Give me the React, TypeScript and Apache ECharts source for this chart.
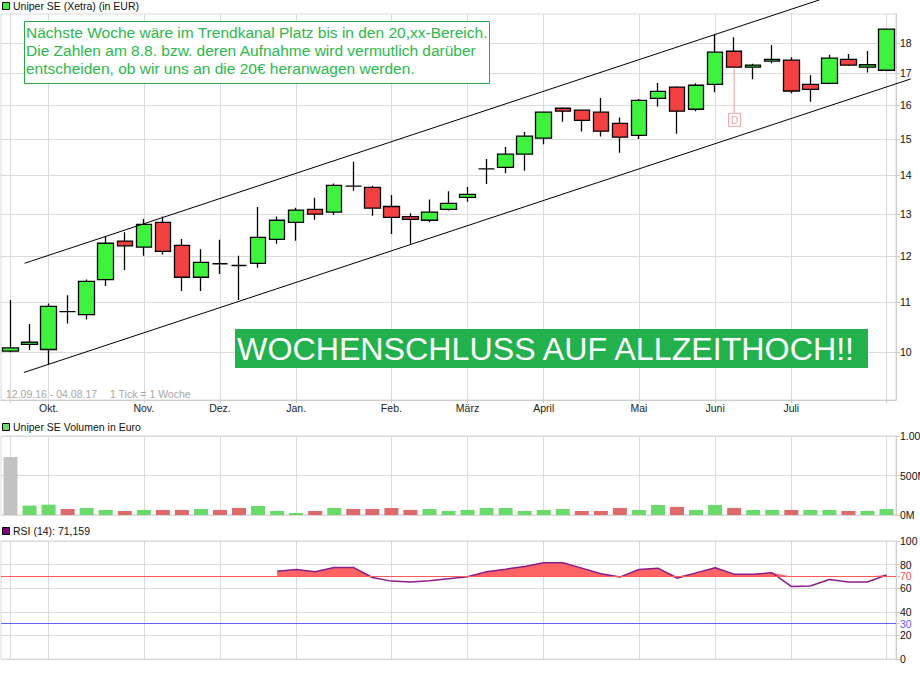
import React, { useEffect, useRef } from 'react';
import * as echarts from 'echarts';

// ---------- data ----------
const weeks = [
  '12.09.16', '19.09.16', '26.09.16',
  '03.10.16', '10.10.16', '17.10.16', '24.10.16', '31.10.16',
  '07.11.16', '14.11.16', '21.11.16', '28.11.16',
  '05.12.16', '12.12.16', '19.12.16', '26.12.16',
  '02.01.17', '09.01.17', '16.01.17', '23.01.17', '30.01.17',
  '06.02.17', '13.02.17', '20.02.17', '27.02.17',
  '06.03.17', '13.03.17', '20.03.17', '27.03.17',
  '03.04.17', '10.04.17', '17.04.17', '24.04.17',
  '01.05.17', '08.05.17', '15.05.17', '22.05.17', '29.05.17',
  '05.06.17', '12.06.17', '19.06.17', '26.06.17',
  '03.07.17', '10.07.17', '17.07.17', '24.07.17', '31.07.17',
];

const opens = [
  10.02, 10.15, 10.05, 10.8, 10.74, 11.48, 12.35, 12.21, 12.8, 12.25,
  11.53, 11.83, 11.79, 11.84, 12.39, 12.8, 13.12, 13.05, 13.71, 13.68,
  13.19, 12.94, 12.85, 13.12, 13.42, 14.17, 14.21, 14.57, 15.02, 15.9,
  15.84, 15.78, 15.45, 15.1, 16.2, 16.55, 15.87, 16.64, 17.72, 17.19,
  17.39, 17.42, 16.64, 16.67, 17.45, 17.19, 17.09,
];
const closes = [
  10.08, 10.19, 10.91, 10.8, 11.44, 12.3, 12.24, 12.75, 12.11, 11.53,
  11.86, 11.83, 11.79, 12.44, 12.85, 13.1, 13.0, 13.73, 13.71, 13.15,
  12.92, 12.87, 13.05, 13.27, 13.5, 14.17, 14.57, 15.08, 15.78, 15.81,
  15.54, 15.22, 15.05, 16.14, 16.42, 15.81, 16.61, 17.69, 17.19, 17.26,
  17.45, 16.43, 16.48, 17.49, 17.26, 17.27, 18.48,
];
const lows = [
  10.0, 10.04, 9.77, 10.56, 10.64, 11.34, 11.69, 12.01, 12.04, 11.23,
  11.23, 11.6, 11.04, 11.74, 12.29, 12.36, 12.86, 12.98, 13.59, 12.96,
  12.52, 12.29, 12.8, 13.09, 13.31, 13.77, 14.05, 14.12, 14.85, 15.5,
  15.21, 15.07, 14.61, 15.0, 15.95, 15.15, 15.81, 16.39, 17.17, 16.8,
  17.32, 16.36, 16.1, 16.64, 17.23, 17.02, 17.06,
];
const highs = [
  11.04, 10.55, 10.97, 11.14, 11.48, 12.45, 12.56, 12.88, 12.94, 12.4,
  12.16, 12.38, 12.01, 13.18, 12.94, 13.16, 13.41, 13.78, 14.36, 13.72,
  13.48, 13.02, 13.37, 13.58, 13.69, 14.44, 14.77, 15.2, 15.8, 15.93,
  15.86, 16.21, 15.62, 16.18, 16.68, 16.58, 16.67, 18.3, 18.2, 17.3,
  17.93, 17.52, 16.93, 17.6, 17.63, 17.73, 18.48,
];

// weekly turnover in million EUR
const volumes = [
  733, 119, 131, 76, 89, 64, 51, 64, 64, 64, 76, 64, 89, 114, 51, 25, 51, 89,
  76, 76, 89, 64, 76, 51, 64, 89, 89, 51, 64, 76, 51, 51, 89, 64, 127, 102,
  64, 127, 89, 64, 64, 64, 64, 64, 51, 51, 76,
];

const rsi: (number | null)[] = [
  null, null, null, null, null, null, null, null, null, null, null, null, null, null,
  74.4, 75.9, 73.9, 77.6, 77.6, 69.1, 66.0, 65.2, 66.3, 68.0, 69.7, 73.9, 76.1,
  78.4, 81.5, 81.5, 77.0, 72.2, 69.4, 75.9, 77.0, 68.5, 73.0, 77.3, 71.9, 71.9,
  73.0, 61.5, 61.8, 67.4, 65.2, 65.2, 71.16,
];

const priceTicks = [10, 11, 12, 13, 14, 15, 16, 17, 18];
const volumeTicks = [0, 500, 1000];
const rsiTicks = [0, 20, 30, 40, 60, 70, 80, 100];
const rsiOverbought = 70;
const rsiOversold = 30;

const monthGridIdx = [0, 2, 7, 11, 15, 20, 24, 28, 33, 37, 41, 46];
const monthNames = ['', 'Okt.', 'Nov.', 'Dez.', 'Jan.', 'Feb.', 'März', 'April', 'Mai', 'Juni', 'Juli', ''];

// trend channel (index, price)
const channelUpper = [[0.735, 11.84], [42.49, 19.54]];
const channelLower = [[0.7, 9.62], [47.27, 16.81]];
const dividendIdx = 38;

const noteLines = [
  'Nächste Woche wäre im Trendkanal Platz bis in den 20,xx-Bereich.',
  'Die Zahlen am 8.8. bzw. deren Aufnahme wird vermutlich darüber',
  'entscheiden, ob wir uns an die 20€ heranwagen werden.',
];
const bannerText = 'WOCHENSCHLUSS AUF ALLZEITHOCH!!';

// ---------- styles ----------
const FONT = '"Liberation Sans", Arial, sans-serif';
const GRID = '#dadada';
const AXIS = '#cdcdcd';
const SMALL = 10.5;

const L = (v: number) => Math.log10(v);

export default function App() {
  const ref = useRef<HTMLDivElement>(null);

  useEffect(() => {
    const chart = echarts.init(ref.current!, null, { renderer: 'svg' });

    const isGridIdx = (i: number) => monthGridIdx.includes(i);
    const monthOf = (v: string) => {
      const i = weeks.indexOf(v);
      const k = monthGridIdx.indexOf(i);
      return k >= 0 ? monthNames[k] : '';
    };

    const candleData = weeks.map((_, i) => [L(opens[i]), L(closes[i]), L(lows[i]), L(highs[i])]);
    const volData = volumes.map((v, i) => ({
      value: v,
      itemStyle: {
        color: i === 0 ? '#c2c2c2' : closes[i] >= closes[i - 1] ? '#6ada6a' : '#de6b6b',
      },
    }));
    const rsiFill = rsi.map((v) => (v == null ? null : Math.max(v, rsiOverbought)));

    const grids = [
      { left: 1, top: 14, width: 895, height: 386 },
      { left: 1, top: 436, width: 895, height: 79 },
      { left: 1, top: 541, width: 895, height: 118 },
    ].map((g) => ({
      ...g,
      show: true,
      borderColor: GRID,
      borderWidth: 1,
      backgroundColor: '#fff',
      containLabel: false,
      outerBoundsMode: 'none',
    }));

    const xAxes = [0, 1, 2].map((g) => ({
      type: 'category',
      gridIndex: g,
      data: weeks,
      boundaryGap: true,
      axisLine: { show: g === 0, lineStyle: { color: AXIS } },
      axisTick: { show: g === 0, alignWithLabel: true, interval: isGridIdx, length: 3, lineStyle: { color: AXIS } },
      axisLabel: {
        show: g === 0,
        interval: isGridIdx,
        formatter: (v: string) => monthOf(v),
        color: '#222',
        fontSize: SMALL,
        fontFamily: FONT,
        margin: 2,
      },
      splitLine: { show: true, interval: isGridIdx, alignWithLabel: true, lineStyle: { color: GRID } },
    }));

    const yCommon = {
      position: 'right',
      axisLine: { show: true, lineStyle: { color: AXIS } },
      splitLine: { show: true, lineStyle: { color: GRID } },
    };

    const yAxes = [
      {
        ...yCommon,
        type: 'value',
        gridIndex: 0,
        min: L(9.13),
        max: L(19.02),
        axisTick: { show: true, length: 4, customValues: priceTicks.map(L), lineStyle: { color: AXIS } },
        axisLabel: {
          customValues: priceTicks.map(L),
          formatter: (v: number) => String(Math.round(Math.pow(10, v))),
          color: '#111', fontSize: SMALL, fontFamily: FONT, margin: 4,
        },
      },
      {
        ...yCommon,
        type: 'value',
        gridIndex: 1,
        min: 0,
        max: 1000,
        axisTick: { show: true, length: 4, customValues: volumeTicks, lineStyle: { color: AXIS } },
        axisLabel: {
          customValues: volumeTicks,
          formatter: (v: number) => (v >= 1000 ? '1.000M' : v + 'M'),
          color: '#111', fontSize: SMALL, fontFamily: FONT, margin: 4,
        },
      },
      {
        ...yCommon,
        type: 'value',
        gridIndex: 2,
        min: 0,
        max: 100,
        axisTick: { show: true, length: 4, customValues: rsiTicks, lineStyle: { color: AXIS } },
        axisLabel: {
          customValues: rsiTicks,
          color: (v: any) => (Number(v) === rsiOverbought ? '#ff5050' : Number(v) === rsiOversold ? '#5a5aff' : '#111'),
          fontSize: SMALL, fontFamily: FONT, margin: 4,
        },
      },
    ];

    chart.setOption({
      animation: false,
      backgroundColor: '#fff',
      grid: grids,
      xAxis: xAxes,
      yAxis: yAxes,
      series: [
        {
          type: 'candlestick',
          xAxisIndex: 0,
          yAxisIndex: 0,
          data: candleData,
          barWidth: 16,
          itemStyle: {
            color: '#3ef23e',
            color0: '#f24141',
            borderColor: '#000',
            borderColor0: '#000',
            borderColorDoji: '#000',
            borderWidth: 1.3,
          },
          z: 5,
        },
        {
          type: 'bar',
          xAxisIndex: 1,
          yAxisIndex: 1,
          data: volData,
          barWidth: 14,
        },
        {
          type: 'line',
          xAxisIndex: 2,
          yAxisIndex: 2,
          data: rsiFill,
          symbol: 'none',
          lineStyle: { width: 0, opacity: 0 },
          areaStyle: { color: '#ff6464', opacity: 1, origin: rsiOverbought },
          z: 2,
        },
        {
          type: 'line',
          xAxisIndex: 2,
          yAxisIndex: 2,
          data: rsi,
          symbol: 'none',
          lineStyle: { color: '#8b1c8b', width: 1.5 },
          z: 4,
          markLine: {
            silent: true,
            symbol: 'none',
            label: { show: false },
            data: [
              { yAxis: rsiOverbought, lineStyle: { color: '#ff5a5a', width: 1, type: 'solid' } },
              { yAxis: rsiOversold, lineStyle: { color: '#6464ee', width: 1, type: 'solid' } },
            ],
          },
        },
      ],
    });

    // ---------- annotations ----------
    const x0 = chart.convertToPixel({ xAxisIndex: 0 }, weeks[0]) as number;
    const xN = chart.convertToPixel({ xAxisIndex: 0 }, weeks[weeks.length - 1]) as number;
    const xPix = (i: number) => x0 + ((xN - x0) * i) / (weeks.length - 1);
    const yPix = (p: number) => chart.convertToPixel({ yAxisIndex: 0 }, L(p)) as number;

    const seg = (pts: number[][]) => ({
      type: 'line',
      silent: true,
      z: 50,
      shape: { x1: xPix(pts[0][0]), y1: yPix(pts[0][1]), x2: xPix(pts[1][0]), y2: yPix(pts[1][1]) },
      style: { stroke: '#000', lineWidth: 1 },
    });

    const txt = (text: string, x: number, y: number, fill: string, size: number, align = 'left') => ({
      type: 'text',
      silent: true,
      z: 100,
      x,
      y,
      style: {
        text,
        fill,
        font: `${size}px ${FONT}`,
        textAlign: align,
        align,
        textVerticalAlign: 'middle',
        verticalAlign: 'middle',
      },
    });

    const legendBox = (y: number, color: string) => ({
      type: 'rect',
      silent: true,
      z: 100,
      shape: { x: 2.5, y: y + 0.5, width: 7, height: 7 },
      style: { fill: color, stroke: '#000', lineWidth: 1 },
    });

    const dx = xPix(dividendIdx);
    const dy = yPix(lows[dividendIdx]);

    chart.setOption({
      graphic: [
        seg(channelUpper),
        seg(channelLower),
        {
          type: 'line', silent: true, z: 60,
          shape: { x1: dx, y1: dy, x2: dx, y2: dy + 45 },
          style: { stroke: '#eba3a3', lineWidth: 1 },
        },
        {
          type: 'rect', silent: true, z: 60,
          shape: { x: dx - 5.5, y: dy + 45.5, width: 12, height: 13 },
          style: { fill: '#fff', stroke: '#eba3a3', lineWidth: 1 },
        },
        txt('D', dx + 0.5, dy + 52.5, '#eba3a3', 10, 'center'),
        // note box
        {
          type: 'rect', silent: true, z: 90,
          shape: { x: 24.5, y: 21.5, width: 465, height: 62 },
          style: { fill: '#fff', stroke: '#2aa84a', lineWidth: 1 },
        },
        ...noteLines.map((t, i) => txt(t, 26, 32.5 + i * 18.2, '#2db84d', 15.5)),
        // banner
        {
          type: 'rect', silent: true, z: 90,
          shape: { x: 235, y: 329, width: 633, height: 39 },
          style: { fill: '#23b14d' },
        },
        txt(bannerText, 237, 349, '#fff', 32.2),
        // headers
        legendBox(2, '#40ee40'),
        txt('Uniper SE (Xetra) (in EUR)', 13, 6, '#111', SMALL),
        legendBox(423, '#6ada6a'),
        txt('Uniper SE Volumen in Euro', 13, 427, '#111', SMALL),
        legendBox(527, '#800080'),
        txt('RSI (14): 71,159', 13, 531, '#111', SMALL),
        txt('12.09.16 - 04.08.17', 6, 394, '#a8a8a8', SMALL),
        txt('1 Tick = 1 Woche', 110, 394, '#a8a8a8', SMALL),
      ],
    });

    return () => chart.dispose();
  }, []);

  return (
    <div
      ref={ref}
      style={{ position: 'fixed', left: 0, top: 0, width: 920, height: 679, overflow: 'hidden', background: '#fff' }}
    />
  );
}
